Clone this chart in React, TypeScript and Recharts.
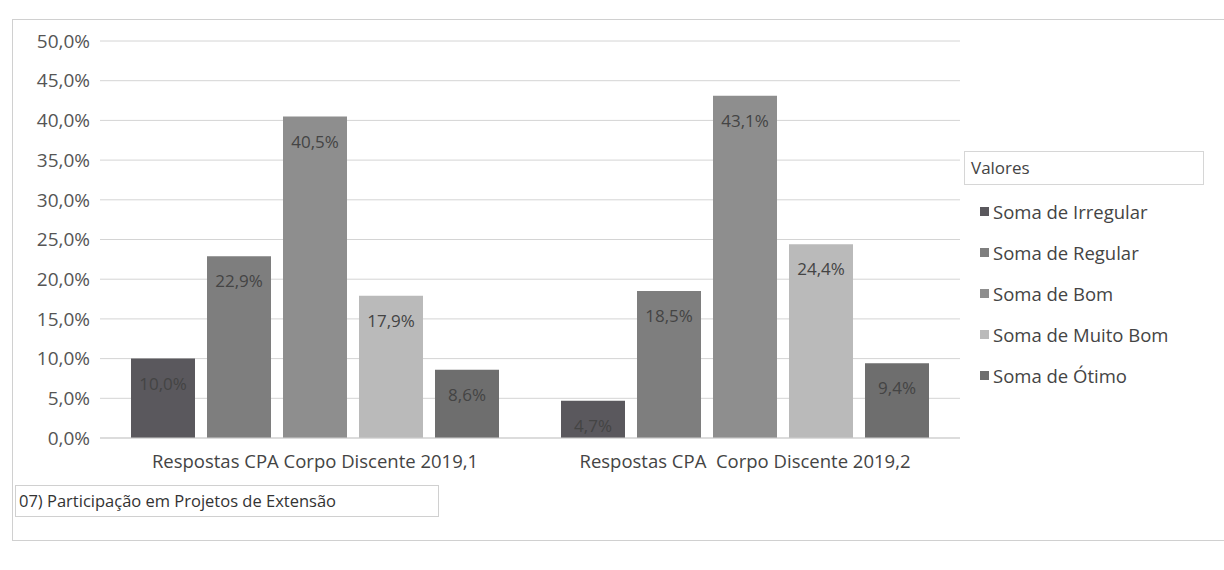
import React from "react";
import {
  Bar,
  BarChart,
  CartesianGrid,
  LabelList,
  Legend,
  XAxis,
  YAxis,
} from "recharts";

// Categories (x axis); the second one has a double space, as in the source
const CATEGORIES = [
  "Respostas CPA Corpo Discente 2019,1",
  "Respostas CPA\u00a0 Corpo Discente 2019,2",
];

// Series values, in percent
const IRREGULAR = [10.0, 4.7];
const REGULAR = [22.9, 18.5];
const BOM = [40.5, 43.1];
const MUITO_BOM = [17.9, 24.4];
const OTIMO = [8.6, 9.4];

const Y_TICKS = [0, 5, 10, 15, 20, 25, 30, 35, 40, 45, 50];

const SERIES = [
  { key: "irregular", name: "Soma de Irregular", values: IRREGULAR, color: "#5a585d" },
  { key: "regular", name: "Soma de Regular", values: REGULAR, color: "#7e7e7e" },
  { key: "bom", name: "Soma de Bom", values: BOM, color: "#8e8e8e" },
  { key: "muitoBom", name: "Soma de Muito Bom", values: MUITO_BOM, color: "#bababa" },
  { key: "otimo", name: "Soma de Ótimo", values: OTIMO, color: "#6e6e6e" },
];

const data = CATEGORIES.map((name, i) => {
  const row: Record<string, string | number> = { name };
  SERIES.forEach((s) => {
    row[s.key] = s.values[i];
  });
  return row;
});

const FONT = '"Open Sans", "Noto Sans", sans-serif';

const pct = (v: number) => `${v.toFixed(1).replace(".", ",")}%`;

// legend drawn in series order (recharts sorts its payload by name)
function LegendBox() {
  return (
    <div style={{ fontFamily: FONT, color: "#444" }}>
      <div
        style={{
          border: "1px solid #d6d6d6",
          height: 32,
          lineHeight: "32px",
          paddingLeft: 6,
          fontSize: 17,
          marginBottom: 6,
        }}
      >
        Valores
      </div>
      {SERIES.map((s) => (
        <div
          key={s.key}
          style={{
            display: "flex",
            alignItems: "center",
            height: 41,
            paddingLeft: 16,
            fontSize: 18.5,
          }}
        >
          <span
            style={{
              width: 9,
              height: 9,
              background: s.color,
              display: "inline-block",
              marginRight: 4,
            }}
          />
          {s.name}
        </div>
      ))}
    </div>
  );
}

export default function App() {
  return (
    <div
      style={{
        position: "absolute",
        left: 0,
        top: 0,
        width: 1224,
        height: 570,
        background: "#fff",
        overflow: "hidden",
      }}
    >
      <div
        style={{
          position: "absolute",
          left: 12,
          top: 19,
          width: 1230,
          height: 520,
          border: "1px solid #d0d0d0",
        }}
      />
      <BarChart
        width={1224}
        height={570}
        data={data}
        margin={{ top: 41, right: 24, left: 0, bottom: 92 }}
        barCategoryGap={31}
        barGap={12}
      >
        <CartesianGrid vertical={false} stroke="#d4d4d4" />
        <XAxis
          dataKey="name"
          height={40}
          axisLine={{ stroke: "#cfcfcf" }}
          tickLine={false}
          tickSize={0}
          tickMargin={17}
          tick={{ fill: "#444", fontSize: 18.5, fontFamily: FONT }}
        />
        <YAxis
          width={100}
          domain={[0, 50]}
          ticks={Y_TICKS}
          interval={0}
          axisLine={false}
          tickLine={false}
          tickSize={0}
          tickMargin={10}
          tickFormatter={pct}
          tick={{ fill: "#555", fontSize: 19, fontFamily: FONT }}
        />
        <Legend
          layout="vertical"
          align="right"
          verticalAlign="top"
          width={240}
          content={<LegendBox />}
          wrapperStyle={{ left: 964, top: 151 }}
        />
        {SERIES.map((s) => (
          <Bar
            key={s.key}
            dataKey={s.key}
            name={s.name}
            fill={s.color}
            isAnimationActive={false}
          >
            <LabelList
              dataKey={s.key}
              position="insideTop"
              offset={19}
              formatter={(v: any) => pct(Number(v))}
              style={{ fill: "#444", fontSize: 17, fontFamily: FONT }}
            />
          </Bar>
        ))}
      </BarChart>
      <div
        style={{
          position: "absolute",
          left: 15,
          top: 485,
          width: 424,
          height: 32,
          border: "1px solid #d0d0d0",
          boxSizing: "border-box",
          fontFamily: FONT,
          fontSize: 16.5,
          color: "#333",
          lineHeight: "30px",
          paddingLeft: 3,
        }}
      >
        07) Participação em Projetos de Extensão
      </div>
    </div>
  );
}
